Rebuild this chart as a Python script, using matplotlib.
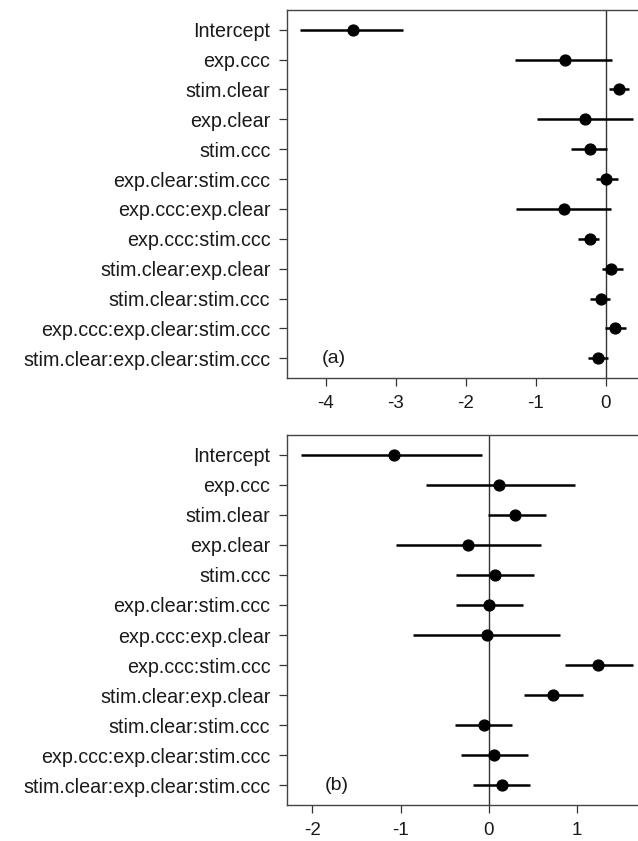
import matplotlib
matplotlib.use("Agg")
import matplotlib.pyplot as plt

plt.rcParams["font.family"] = ["Liberation Sans", "DejaVu Sans"]

#===============================================================================
terms = ["Intercept", "exp.ccc", "stim.clear", "exp.clear", "stim.ccc",
         "exp.clear:stim.ccc", "exp.ccc:exp.clear", "exp.ccc:stim.ccc",
         "stim.clear:exp.clear", "stim.clear:stim.ccc",
         "exp.ccc:exp.clear:stim.ccc", "stim.clear:exp.clear:stim.ccc"]

# panel (a): estimate, lower, upper
est_a = [-3.61, -0.58, 0.19, -0.30, -0.23, 0.01, -0.60, -0.23, 0.08, -0.07, 0.13, -0.11]
low_a = [-4.37, -1.30, 0.05, -0.98, -0.49, -0.14, -1.28, -0.39, -0.06, -0.23, -0.01, -0.26]
upp_a = [-2.90, 0.09, 0.33, 0.39, 0.02, 0.17, 0.07, -0.09, 0.24, 0.06, 0.29, 0.03]

# panel (b)
est_b = [-1.07, 0.11, 0.30, -0.24, 0.07, 0.00, -0.02, 1.24, 0.73, -0.06, 0.06, 0.15]
low_b = [-2.13, -0.71, -0.01, -1.05, -0.37, -0.37, -0.86, 0.86, 0.40, -0.38, -0.32, -0.18]
upp_b = [-0.08, 0.97, 0.65, 0.59, 0.51, 0.39, 0.80, 1.63, 1.07, 0.26, 0.44, 0.47]

#===============================================================================
def draw_panel(ax, est, low, upp, xlim, xticks, tag, tag_x):
    rows = list(range(1, len(terms) + 1))
    ax.axvline(0, color="#333333", lw=1.0, zorder=1)
    ax.hlines(rows, low, upp, color="black", lw=1.8, zorder=2)
    ax.plot(est, rows, "o", color="black", ms=7.8, zorder=3)

    ax.set_xlim(xlim)
    ax.set_ylim(12.66, 0.34)
    ax.set_yticks(rows)
    ax.set_yticklabels(terms)
    ax.set_xticks(xticks)
    ax.set_xticklabels([str(t) for t in xticks])
    ax.tick_params(axis="both", direction="out", length=6, width=0.9,
                   labelsize=14.2, color="#333333", labelcolor="#1a1a1a")
    ax.tick_params(axis="y", pad=6)
    ax.tick_params(axis="x", pad=6, labelsize=13.5)
    for side in ["left", "top", "bottom"]:
        ax.spines[side].set_color("#444444")
        ax.spines[side].set_linewidth(1.0)
    ax.spines["right"].set_visible(False)
    ax.text(tag_x, 12, tag, fontsize=14, va="center", ha="left", color="#1a1a1a")

#===============================================================================
fig = plt.figure(figsize=(6.38, 8.41), dpi=100)

w = (638 - 287) / 638
ax_a = fig.add_axes([287 / 638, 1 - 378 / 841, w, 368 / 841])
ax_b = fig.add_axes([287 / 638, 1 - 805 / 841, w, 370 / 841])

draw_panel(ax_a, est_a, low_a, upp_a, (-4.553, 0.461), [-4, -3, -2, -1, 0], "(a)", -4.05)
draw_panel(ax_b, est_b, low_b, upp_b, (-2.287, 1.688), [-2, -1, 0, 1], "(b)", -1.86)

fig.savefig("out.png", dpi=100)
